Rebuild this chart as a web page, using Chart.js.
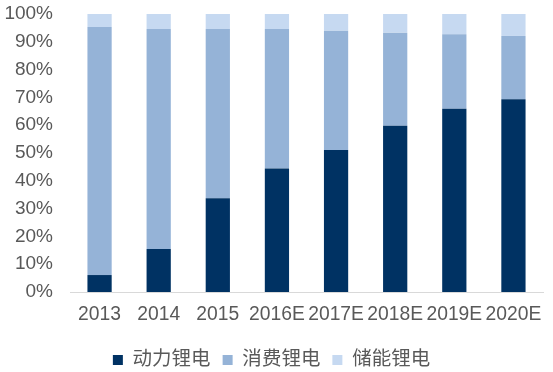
<!DOCTYPE html>
<html>
<head>
<meta charset="utf-8">
<script src="https://cdn.jsdelivr.net/npm/chart.js@4"></script>
<style>
  html, body { margin: 0; padding: 0; background: #fff; }
  #wrap { width: 553px; height: 372px; }
</style>
</head>
<body>
<div id="wrap"><canvas id="chart" width="553" height="372"></canvas></div>
<script>
const YEARS = ["2013", "2014", "2015", "2016E", "2017E", "2018E", "2019E", "2020E"];
// share of each type, in %
const DONGLI = [6.1, 15.5, 33.7, 44.4, 51.1, 59.8, 65.9, 69.3];
const XIAOFEI = [89.2, 79.1, 60.9, 50.2, 42.9, 33.5, 26.8, 22.8];
const CHUNENG = [4.7, 5.4, 5.4, 5.4, 6.0, 6.7, 7.3, 7.9];
const Y_TICKS = [0, 10, 20, 30, 40, 50, 60, 70, 80, 90, 100];

const FONT = "'Liberation Sans', 'Noto Sans CJK SC', sans-serif";
const GRIS = "#595959";

var ctx = document.getElementById("chart").getContext("2d");
var grafico = new Chart(ctx, {
    type: "bar",
    data: {
        labels: YEARS,
        datasets: [
            { label: "动力锂电", data: DONGLI, backgroundColor: "#003263" },
            { label: "消费锂电", data: XIAOFEI, backgroundColor: "#95B3D7" },
            { label: "储能锂电", data: CHUNENG, backgroundColor: "#C6D9F1" }
        ]
    },
    options: {
        responsive: false,
        animation: false,
        layout: { padding: { left: 0, right: 10, top: 0, bottom: -7.75 } },
        datasets: { bar: { barPercentage: 0.41, categoryPercentage: 1.0 } },
        scales: {
            x: {
                stacked: true,
                grid: { display: false, drawTicks: false },
                border: { display: true, color: "#D9D9D9", width: 1 },
                ticks: { color: GRIS, font: { family: FONT, size: 19.3, lineHeight: 22.25 / 19.3 }, padding: 12, maxRotation: 0, autoSkip: false },
                afterFit: (axis) => { axis.paddingLeft = 0; axis.paddingRight = 0 }
            },
            y: {
                stacked: true,
                min: 0,
                max: 100,
                grid: { display: false, drawTicks: false },
                border: { display: false },
                afterBuildTicks: (axis) => { axis.ticks = Y_TICKS.map(v => ({ value: v })) },
                // keep the plot where the original sits
                afterFit: (axis) => { axis.width = 70; axis.paddingTop = 14; axis.paddingBottom = 0 },
                ticks: {
                    color: GRIS,
                    font: { family: FONT, size: 19 },
                    padding: 17,
                    autoSkip: false,
                    callback: (v) => v + "%"
                }
            }
        },
        plugins: {
            legend: {
                position: "bottom",
                labels: {
                    color: GRIS,
                    boxWidth: 10,
                    boxHeight: 10,
                    padding: 12,
                    font: { family: FONT, size: 19.5 }
                }
            },
            tooltip: { enabled: false }
        }
    }
});
</script>
</body>
</html>
